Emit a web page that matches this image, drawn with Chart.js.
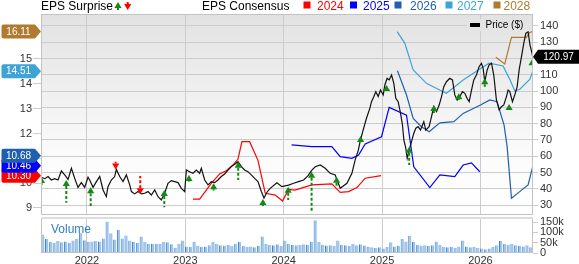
<!DOCTYPE html>
<html>
<head>
<meta charset="utf-8">
<script src="https://cdn.jsdelivr.net/npm/chart.js@4.4.1/dist/chart.umd.min.js"></script>
<style>
  html, body { margin: 0; padding: 0; background: #fff; }
  #wrap { position: relative; width: 579px; height: 264px; overflow: hidden; }
  #wrap canvas { position: absolute; left: 0; }
  #price { top: 0; }
  #vol { top: 217px; }
</style>
</head>
<body>
<div id="wrap">
  <canvas id="price" width="579" height="217"></canvas>
  <canvas id="vol" width="579" height="47"></canvas>
</div>
<script>
// ---- data (dates are decimal years) ----
const yearTicks = [2022, 2023, 2024, 2025, 2026];
const priceTicks = [30, 40, 50, 60, 70, 80, 90, 100, 110, 120, 130, 140];
const epsTicks = [9, 10, 11, 12, 13, 14, 15];
const volTicks = [0, 50, 100, 150]; // thousands

const priceDates = [
  2021.537, 2021.571, 2021.605, 2021.638, 2021.672, 2021.706, 2021.740, 2021.774, 2021.808, 2021.842,
  2021.876, 2021.909, 2021.943, 2021.977, 2022.011, 2022.028, 2022.062, 2022.096, 2022.130, 2022.164,
  2022.197, 2022.214, 2022.248, 2022.282, 2022.299, 2022.333, 2022.367, 2022.401, 2022.435, 2022.452,
  2022.485, 2022.519, 2022.553, 2022.587, 2022.621, 2022.655, 2022.689, 2022.723, 2022.756, 2022.790,
  2022.824, 2022.858, 2022.892, 2022.926, 2022.960, 2022.994, 2023.011, 2023.044, 2023.078, 2023.112,
  2023.146, 2023.163, 2023.197, 2023.231, 2023.265, 2023.298, 2023.332, 2023.366, 2023.400, 2023.434,
  2023.468, 2023.502, 2023.536, 2023.570, 2023.603, 2023.637, 2023.671, 2023.705, 2023.739, 2023.773,
  2023.800, 2023.830, 2023.863, 2023.931, 2023.982, 2024.050, 2024.101, 2024.152, 2024.203, 2024.246,
  2024.287, 2024.321, 2024.372, 2024.422, 2024.473, 2024.524, 2024.575, 2024.643, 2024.694, 2024.727,
  2024.758, 2024.781, 2024.808, 2024.842, 2024.876, 2024.893, 2024.917, 2024.937, 2024.961, 2024.985,
  2025.012, 2025.029, 2025.052, 2025.073, 2025.097, 2025.120, 2025.140, 2025.164, 2025.188, 2025.208,
  2025.222, 2025.242, 2025.256, 2025.276, 2025.300, 2025.323, 2025.344, 2025.367, 2025.391, 2025.425,
  2025.445, 2025.479, 2025.503, 2025.527, 2025.554, 2025.581, 2025.605, 2025.628, 2025.655, 2025.689,
  2025.716, 2025.740, 2025.764, 2025.791, 2025.818, 2025.842, 2025.865, 2025.886, 2025.910, 2025.933,
  2025.960, 2025.987, 2026.011, 2026.028, 2026.045, 2026.069, 2026.089, 2026.113, 2026.136, 2026.163,
  2026.191, 2026.214, 2026.238, 2026.265, 2026.282, 2026.299, 2026.326, 2026.350, 2026.374, 2026.394,
  2026.418, 2026.441, 2026.462, 2026.485, 2026.505, 2026.519, 2026.533
];
const priceValues = [
  47.2, 46.3, 47.6, 45.5, 46.3, 45.5, 51.0, 48.6, 45.9, 52.7,
  46.5, 41.0, 43.9, 41.0, 47.2, 45.5, 41.0, 44.5, 47.6, 39.4,
  35.3, 41.4, 45.5, 47.6, 52.0, 47.6, 44.5, 48.6, 42.5, 38.4,
  37.0, 38.4, 37.0, 37.4, 38.4, 36.3, 39.4, 35.3, 33.3, 37.4,
  43.5, 45.1, 44.5, 43.9, 40.4, 38.4, 51.6, 50.6, 49.6, 51.6,
  49.6, 52.7, 45.5, 42.5, 44.5, 43.9, 45.5, 47.6, 49.2, 51.6,
  53.7, 55.1, 56.7, 53.7, 51.6, 50.6, 48.6, 46.5, 44.5, 38.5,
  34.5, 38.0, 40.4, 43.8, 41.4, 42.4, 43.5, 44.5, 45.5, 48.0,
  51.6, 53.6, 54.7, 52.7, 49.6, 48.6, 40.4, 43.5, 49.6, 57.8,
  63.5, 70.0, 76.1, 83.3, 89.4, 93.5, 96.6, 99.6, 96.6, 100.6,
  97.6, 103.7, 107.8, 106.8, 109.8, 104.7, 95.5, 93.5, 86.4, 79.2,
  70.0, 64.9, 58.8, 63.9, 69.0, 74.1, 77.2, 78.2, 76.1, 81.2,
  76.1, 78.2, 84.3, 90.4, 87.4, 91.4, 96.6, 102.7, 105.7, 107.8,
  106.8, 97.6, 94.5, 96.6, 99.6, 98.6, 95.5, 93.5, 100.6, 106.8,
  109.8, 114.9, 117.0, 113.9, 105.7, 112.9, 116.0, 117.0, 109.8, 94.5,
  88.4, 90.4, 91.5, 96.6, 100.6, 99.6, 93.5, 97.6, 102.7, 112.9,
  121.0, 129.2, 135.3, 136.3, 128.0, 124.7, 120.97
];

const eps2024Dates = [2023.078, 2023.146, 2023.264, 2023.349, 2023.417, 2023.484, 2023.535, 2023.576, 2023.654, 2023.738, 2023.813, 2023.914, 2023.989, 2024.050, 2024.114, 2024.287, 2024.490, 2024.575, 2024.660, 2024.745, 2024.829, 2024.991];
const eps2024Values = [9.36, 9.36, 9.99, 10.37, 10.50, 10.73, 10.96, 11.67, 11.67, 10.93, 9.59, 9.52, 9.28, 9.75, 9.72, 9.93, 9.97, 9.63, 9.66, 9.82, 10.20, 10.30];

const eps2025Dates = [2024.080, 2024.287, 2024.490, 2024.575, 2024.694, 2024.762, 2024.829, 2024.995, 2025.073, 2025.249, 2025.323, 2025.486, 2025.588, 2025.740, 2025.825, 2025.910, 2025.994];
const eps2025Values = [11.54, 11.47, 11.47, 11.07, 11.00, 11.13, 11.58, 11.87, 13.05, 12.74, 10.66, 9.82, 10.33, 10.26, 10.73, 10.82, 10.46];

const eps2026Dates = [2025.157, 2025.249, 2025.317, 2025.401, 2025.479, 2025.588, 2025.730, 2025.825, 2026.001, 2026.096, 2026.170, 2026.241, 2026.272, 2026.316, 2026.400, 2026.485, 2026.533];
const eps2026Values = [14.53, 13.55, 12.61, 12.27, 12.07, 12.43, 12.48, 12.81, 13.15, 13.35, 13.28, 12.34, 11.47, 9.39, 9.66, 9.93, 10.68];

const eps2027Dates = [2025.154, 2025.232, 2025.317, 2025.452, 2025.621, 2025.655, 2025.825, 2025.994, 2026.089, 2026.231, 2026.299, 2026.350, 2026.401, 2026.502, 2026.533];
const eps2027Values = [16.10, 15.63, 14.56, 14.02, 13.68, 13.62, 14.15, 14.60, 14.83, 14.72, 14.18, 13.71, 13.78, 14.18, 14.51];

const eps2028Dates = [2026.157, 2026.248, 2026.316, 2026.468, 2026.500, 2026.533];
const eps2028Values = [15.07, 14.80, 15.87, 15.87, 16.06, 16.11];

// EPS surprise arrows: arrow tip and tail, in price units
const surpriseDates = [2021.538, 2021.790, 2022.038, 2022.292, 2022.542, 2022.786, 2023.037, 2023.288, 2023.538, 2023.789, 2024.046, 2024.284, 2024.538, 2024.782, 2025.046, 2025.276, 2025.527, 2025.781, 2026.045, 2026.292, 2026.526];
const surpriseTip = [47.4, 45.5, 41.0, 52.0, 36.7, 39.4, 48.6, 43.5, 56.7, 33.9, 41.4, 50.6, 47.5, 72.5, 103.7, 65.9, 91.4, 98.6, 107.8, 92.1, 119.4];
const surpriseTail = [42.4, 31.6, 29.6, 56.7, 48.0, 28.8, 44.5, 39.0, 45.5, 29.6, 33.3, 25.9, 41.4, 70.0, 101.2, 54.7, 86.5, 94.5, 102.6, 88.4, 116.5];

// volume in two-week buckets, thousands of shares
const volStart = 2021.552;
const volStep = 1 / 26;
const volValues = [
  90, 68, 55, 50, 58, 52, 56, 50, 60, 68,
  97, 62, 55, 56, 58, 56, 70, 153, 95, 65,
  113, 70, 85, 60, 55, 50, 80, 55, 45, 45,
  43, 45, 55, 52, 42, 25, 45, 60, 32, 30,
  55, 35, 30, 32, 38, 55, 45, 38, 36, 40,
  35, 45, 55, 35, 30, 32, 28, 35, 80, 45,
  40, 38, 42, 35, 60, 45, 40, 38, 40, 42,
  40, 55, 158, 55, 40, 36, 38, 35, 61, 40,
  38, 35, 45, 38, 42, 36, 32, 28, 24, 28,
  22, 30, 52, 32, 35, 68, 56, 84, 55, 40,
  36, 38, 34, 38, 56, 40, 30, 28, 30, 26,
  32, 60, 32, 28, 30, 26, 22, 18, 22, 30,
  38, 58, 45, 40, 45, 38, 35, 32, 38, 28
];

// ---- styling ----
const FONT = '"Liberation Sans", Arial, Helvetica, sans-serif';
const GRID = '#cccccc';
const FRAME = '#c2c2c2';
const GREEN = '#148a14';
const RED = '#ff0000';
const yearColors = { 2024: '#ff0000', 2025: '#0000ff', 2026: '#1f5fb0', 2027: '#3ea3d6', 2028: '#b07b30' };
const X_MIN = 2021.533, X_MAX = 2026.535;

const pts = (xs, ys) => xs.map((x, i) => ({ x: x, y: ys[i] }));
const fixTicks = (values) => (s) => { s.ticks = values.map((v) => ({ value: v })); };
const fixWidth = (w) => (s) => { s.width = w; s.paddingTop = 0; s.paddingBottom = 0; };
const fixHeight = (h) => (s) => { s.height = h; s.paddingLeft = 0; s.paddingRight = 0; };

function arrow(ctx, x, yTip, yTail, color, dashed) {
  const dir = yTip < yTail ? 1 : -1;
  const headH = 6, headW = 3.6;
  ctx.save();
  ctx.fillStyle = color;
  ctx.strokeStyle = color;
  ctx.beginPath();
  ctx.moveTo(x, yTip);
  ctx.lineTo(x - headW, yTip + dir * headH);
  ctx.lineTo(x + headW, yTip + dir * headH);
  ctx.closePath();
  ctx.fill();
  const stemStart = yTip + dir * headH;
  if ((yTail - stemStart) * dir > 0) {
    ctx.lineWidth = 2;
    if (dashed) ctx.setLineDash([3, 2]);
    ctx.beginPath();
    ctx.moveTo(x, stemStart);
    ctx.lineTo(x, yTail);
    ctx.stroke();
  }
  ctx.restore();
}

function badge(ctx, xBody0, xBody1, xTip, y, color, text, textX) {
  const h = 7;
  ctx.save();
  ctx.fillStyle = color;
  ctx.beginPath();
  if (xTip > xBody1) {
    ctx.moveTo(xBody0 + 2, y - h);
    ctx.lineTo(xBody1, y - h);
    ctx.lineTo(xTip, y);
    ctx.lineTo(xBody1, y + h);
    ctx.lineTo(xBody0 + 2, y + h);
    ctx.quadraticCurveTo(xBody0, y + h, xBody0, y + h - 2);
    ctx.lineTo(xBody0, y - h + 2);
    ctx.quadraticCurveTo(xBody0, y - h, xBody0 + 2, y - h);
  } else {
    ctx.moveTo(xTip, y);
    ctx.lineTo(xBody0, y - h);
    ctx.lineTo(xBody1, y - h);
    ctx.lineTo(xBody1, y + h);
    ctx.lineTo(xBody0, y + h);
  }
  ctx.closePath();
  ctx.fill();
  ctx.fillStyle = '#ffffff';
  ctx.font = '10px ' + FONT;
  ctx.textAlign = 'center';
  ctx.textBaseline = 'middle';
  ctx.fillText(text, textX, y + 0.5);
  ctx.restore();
}

const priceDecor = {
  id: 'priceDecor',
  beforeDraw(chart) {
    const { ctx, chartArea: a } = chart;
    const g = ctx.createLinearGradient(0, a.top, 0, a.bottom);
    g.addColorStop(0, '#e2e2e2');
    g.addColorStop(0.7, '#fbfbfb');
    g.addColorStop(1, '#ffffff');
    chart.$bg = g;
    ctx.save();
    ctx.fillStyle = g;
    ctx.fillRect(a.left, a.top, a.right - a.left, a.bottom - a.top);

    // header legend
    ctx.fillStyle = '#000';
    ctx.font = '12px ' + FONT;
    ctx.textBaseline = 'alphabetic';
    ctx.textAlign = 'left';
    ctx.fillText('EPS Surprise', 41, 9.5);
    arrow(ctx, 118, 2, 10, GREEN, false);
    arrow(ctx, 127.7, 10, 2, RED, false);
    ctx.fillStyle = '#000';
    ctx.fillText('EPS Consensus', 202, 9.5);
    const years = [2024, 2025, 2026, 2027, 2028];
    const sq = [303.5, 350, 394.5, 445.5, 493.5];
    const tx = [317, 363, 410, 457, 503.5];
    years.forEach((yr, i) => {
      ctx.fillStyle = yearColors[yr];
      ctx.fillRect(sq[i], 1.5, 7, 7);
      ctx.fillText(String(yr), tx[i], 9.5);
    });
    ctx.restore();
  },
  afterDatasetsDraw(chart) {
    const { ctx, chartArea: a, scales } = chart;
    ctx.save();
    ctx.beginPath();
    ctx.rect(a.left, a.top, a.right - a.left, a.bottom - a.top);
    ctx.clip();
    surpriseDates.forEach((t, i) => {
      const x = scales.x.getPixelForValue(t);
      const yTip = scales.price.getPixelForValue(surpriseTip[i]);
      const yTail = scales.price.getPixelForValue(surpriseTail[i]);
      const up = surpriseTip[i] > surpriseTail[i];
      arrow(ctx, x, yTip, yTail, up ? GREEN : RED, true);
    });
    ctx.restore();
  },
  afterDraw(chart) {
    const { ctx, chartArea: a, scales } = chart;
    ctx.save();
    // frame
    ctx.strokeStyle = FRAME;
    ctx.lineWidth = 1;
    ctx.strokeRect(a.left + 0.5, a.top + 0.5, a.right - a.left - 1, a.bottom - a.top - 1);

    // price legend box
    ctx.fillStyle = chart.$bg;
    ctx.fillRect(467, 19, a.right - 467 - 1, 12);
    ctx.fillStyle = '#000';
    ctx.fillRect(470, 23, 10, 4);
    ctx.font = '10px ' + FONT;
    ctx.textBaseline = 'middle';
    ctx.textAlign = 'left';
    ctx.fillText('Price ($)', 485.5, 25.5);

    // consensus badges on the left axis, pushed apart from the bottom up
    const series = [
      [2024, eps2024Values], [2025, eps2025Values], [2026, eps2026Values],
      [2027, eps2027Values], [2028, eps2028Values]
    ];
    let prevY = Infinity;
    const placed = series.map(([yr, vals]) => {
      const v = vals[vals.length - 1];
      let y = scales.eps.getPixelForValue(v);
      y = Math.min(y, prevY - 10);
      prevY = y;
      return { yr, v, y };
    });
    placed.forEach((b) => badge(ctx, 1.5, 35, 41, b.y, yearColors[b.yr], b.v.toFixed(2), 18.5));

    // last price badge
    const last = priceValues[priceValues.length - 1];
    badge(ctx, 538, 582, 533, scales.price.getPixelForValue(last), '#000', last.toFixed(2), 558.5);
    ctx.restore();
  }
};

const tickFont = { family: FONT, size: 11 };

new Chart(document.getElementById('price'), {
  type: 'line',
  data: {
    datasets: [
      { label: 'Price ($)', data: pts(priceDates, priceValues), yAxisID: 'price', borderColor: '#111', borderWidth: 1.2, order: 0 },
      { label: '2024', data: pts(eps2024Dates, eps2024Values), yAxisID: 'eps', borderColor: yearColors[2024], order: 1 },
      { label: '2025', data: pts(eps2025Dates, eps2025Values), yAxisID: 'eps', borderColor: yearColors[2025], order: 2 },
      { label: '2026', data: pts(eps2026Dates, eps2026Values), yAxisID: 'eps', borderColor: yearColors[2026], order: 3 },
      { label: '2027', data: pts(eps2027Dates, eps2027Values), yAxisID: 'eps', borderColor: yearColors[2027], order: 4 },
      { label: '2028', data: pts(eps2028Dates, eps2028Values), yAxisID: 'eps', borderColor: yearColors[2028], order: 5 }
    ]
  },
  options: {
    responsive: false,
    animation: false,
    events: [],
    elements: { point: { radius: 0 }, line: { borderWidth: 1.2, tension: 0 } },
    layout: { padding: { top: 14, left: 0, right: 0, bottom: 0 } },
    plugins: { legend: { display: false }, tooltip: { enabled: false } },
    scales: {
      x: {
        type: 'linear', min: X_MIN, max: X_MAX, offset: false,
        afterBuildTicks: fixTicks(yearTicks),
        afterFit: fixHeight(2),
        ticks: { display: false },
        grid: { color: GRID, drawTicks: false, offset: false },
        border: { display: false }
      },
      eps: {
        type: 'linear', position: 'left', min: 8.718, max: 16.812,
        afterBuildTicks: fixTicks(epsTicks),
        afterFit: fixWidth(41),
        ticks: { color: '#333', font: tickFont, padding: 1, autoSkip: false },
        grid: { drawOnChartArea: false, color: GRID, tickLength: 8 },
        border: { display: false }
      },
      price: {
        type: 'linear', position: 'right', min: 24.06, max: 147.17,
        afterBuildTicks: fixTicks(priceTicks),
        afterFit: fixWidth(46),
        ticks: { color: '#333', font: tickFont, padding: 2, autoSkip: false },
        grid: { color: GRID, tickLength: 5 },
        border: { display: false }
      }
    }
  },
  plugins: [priceDecor]
});

const volDecor = {
  id: 'volDecor',
  afterDraw(chart) {
    const { ctx, chartArea: a } = chart;
    ctx.save();
    ctx.strokeStyle = FRAME;
    ctx.lineWidth = 1;
    ctx.strokeRect(a.left + 0.5, a.top + 0.5, a.right - a.left - 1, a.bottom - a.top - 1);
    ctx.fillStyle = '#dddddd';
    ctx.fillRect(a.left, a.top - 1, a.right - a.left, 2);
    ctx.fillStyle = '#2f7fc8';
    ctx.font = '12px ' + FONT;
    ctx.textBaseline = 'middle';
    ctx.textAlign = 'left';
    ctx.fillText('Volume', 51, 12.5);
    ctx.restore();
  }
};

new Chart(document.getElementById('vol'), {
  type: 'bar',
  data: {
    datasets: [{
      data: volValues.map((v, i) => ({ x: volStart + i * volStep, y: v })),
      backgroundColor: '#9ec6ec',
      borderColor: '#3f80c6',
      borderWidth: { left: 1, right: 0, top: 0, bottom: 0 },
      barPercentage: 1,
      categoryPercentage: 0.86
    }]
  },
  options: {
    responsive: false,
    animation: false,
    events: [],
    layout: { padding: { top: 1, left: 41, right: 0, bottom: 0 } },
    plugins: { legend: { display: false }, tooltip: { enabled: false } },
    scales: {
      x: {
        type: 'linear', min: X_MIN, max: X_MAX, offset: false,
        afterBuildTicks: fixTicks(yearTicks),
        afterFit: fixHeight(11),
        ticks: { color: '#333', font: tickFont, padding: 1, autoSkip: false, callback: (v) => String(v) },
        grid: { color: GRID, drawTicks: false, offset: false },
        border: { display: false }
      },
      y: {
        type: 'linear', position: 'right', min: 0, max: 169.4,
        afterBuildTicks: fixTicks(volTicks),
        afterFit: fixWidth(46),
        ticks: { color: '#333', font: tickFont, padding: 2, autoSkip: false, callback: (v) => (v === 0 ? '0' : v + 'k') },
        grid: { drawOnChartArea: false, color: GRID, tickLength: 5 },
        border: { display: false }
      }
    }
  },
  plugins: [volDecor]
});
</script>
</body>
</html>
